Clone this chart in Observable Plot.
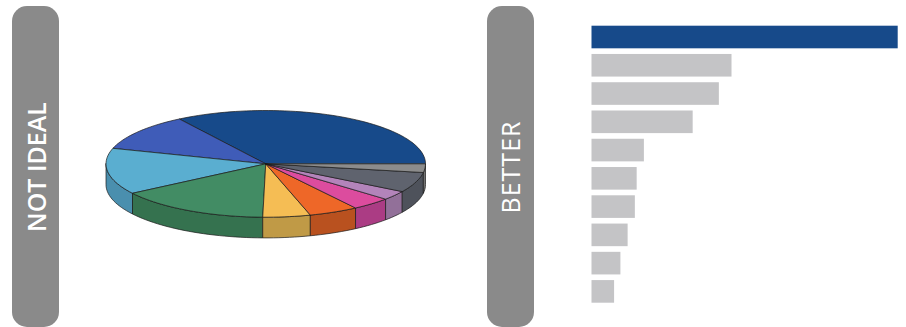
<!DOCTYPE html>
<html>
<head>
<meta charset="utf-8">
<script src="https://cdn.jsdelivr.net/npm/d3@7"></script>
<script src="https://cdn.jsdelivr.net/npm/@observablehq/plot@0.6"></script>
<style>
  html, body { margin: 0; padding: 0; background: #fff; overflow: hidden; }
  #chart { position: relative; width: 906px; height: 327px; overflow: hidden; }
  #chart svg { position: absolute; left: 0; top: 0; }
  .pill { position: absolute; top: 6px; width: 47.3px; height: 321px; background: #8a8a8a; border-radius: 15px;
          display: flex; align-items: center; justify-content: center; }
  .pill span { color: #fff; font: 600 25px "Open Sans", sans-serif; white-space: nowrap; transform: rotate(-90deg); display: block; }
</style>
</head>
<body>
<div id="chart">
  <div class="pill" style="left:12px"><span>NOT IDEAL</span></div>
  <div class="pill" style="left:487px"><span style="font-weight:500;letter-spacing:1px">BETTER</span></div>
</div>
<script>
// Bar chart: shares (%) largest first
const categories = ["a", "b", "c", "d", "e", "f", "g", "h", "i", "j"];
const shares = [33.9, 15.5, 14.1, 11.2, 5.8, 5.0, 4.8, 4.0, 3.2, 2.5];
// Pie: the same categories counter-clockwise from 3 o'clock, slices
const pieOrder = ["a", "d", "c", "b", "g", "f", "h", "j", "e", "i"];
const pieShares = [34.1, 11.2, 14.0, 15.4, 4.8, 5.0, 4.0, 2.8, 6.1, 2.6];
const topColors = ["#174a8a", "#3f5cb8", "#5aaed0", "#428c64", "#f5bd54", "#ee6728", "#dc4c9e", "#b384ba", "#5f636e", "#8c8c8c"];
const sideColors = ["#123a6d", "#324993", "#4a8fae", "#35724f", "#c09a46", "#b9511f", "#ab3c84", "#927099", "#4e525b", "#747474"];
const barHighlight = "a";
const sideDepth = 0.388; // thickness of the disc, in units of the vertical radius

const total = d3.sum(pieShares);
const rad = Math.PI / 180;
const pt = (deg, dy = 0) => ({x: Math.cos(deg * rad), y: -Math.sin(deg * rad) + dy});
const arc = (a0, a1, dy = 0) => {
  const n = Math.max(2, Math.ceil((a1 - a0) / 2));
  return d3.range(n + 1).map(i => pt(a0 + (a1 - a0) * i / n, dy));
};

const topRows = [], sideRows = [];
let angle = 0;
pieOrder.forEach((c, i) => {
  const a0 = angle, a1 = angle + pieShares[i] / total * 360;
  angle = a1;
  const ring = [{x: 0, y: 0}, ...arc(a0, a1), {x: 0, y: 0}];
  ring.forEach(p => topRows.push({...p, id: c, color: topColors[i]}));
  const s0 = Math.max(a0, 180), s1 = Math.min(a1, 360);
  if (s1 > s0) {
    const front = arc(s0, s1);
    const ringS = [...front, ...arc(s0, s1, sideDepth).reverse(), front[0]];
    ringS.forEach(p => sideRows.push({...p, id: c + "-side", color: sideColors[i]}));
  }
});

const lineStyle = {x: "x", y: "y", z: "id", fill: "color", stroke: "#1a1a1a", strokeWidth: 0.7, strokeLinejoin: "round", curve: "linear"};
const pie = Plot.plot({
  width: 906, height: 327, margin: 0,
  style: {background: "transparent"},
  x: {domain: [-1, 1], range: [105.5, 425], axis: null},
  y: {domain: [-1, 1], range: [110, 216.7], axis: null},
  color: {type: "identity"},
  marks: [Plot.line(sideRows, lineStyle), Plot.line(topRows, lineStyle)]
});

const barRows = categories.map((c, i) => ({c, v: shares[i]}));
const bars = Plot.plot({
  width: 906, height: 327, margin: 0,
  style: {background: "transparent"},
  x: {domain: [0, d3.max(shares)], range: [591.5, 897.7], axis: null},
  y: {domain: categories, range: [25.7, 302.7], paddingInner: 0.2, paddingOuter: 0, round: false, axis: null},
  marks: [Plot.barX(barRows, {x: "v", y: "c", fill: d => d.c === barHighlight ? topColors[0] : "#c4c4c6"})]
});

document.getElementById("chart").append(pie, bars);
</script>
</body>
</html>
